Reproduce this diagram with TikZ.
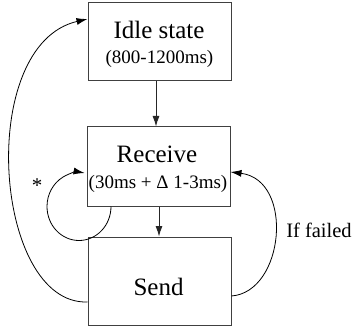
\documentclass[tikz,border=0pt]{standalone}
\usepackage{fontspec}
\setmainfont{Liberation Serif}
\usetikzlibrary{arrows.meta}

\tikzset{
  statebox/.style={draw=black!75, line width=1pt, inner sep=0pt, minimum width=143pt},
  bigtext/.style={anchor=base, font=\fontsize{25}{30}\selectfont},
  smalltext/.style={anchor=base, font=\fontsize{19}{23}\selectfont},
  flow/.style={draw=black!85, line width=0.9pt, -{Latex[length=10.5pt,width=7pt]}},
  loop/.style={draw=black, line width=0.8pt, -{Latex[length=11pt,width=7pt]}},
}

\begin{document}
\begin{tikzpicture}[x=1pt, y=-1pt]
  \useasboundingbox (0,0) rectangle (354,329);

  % state boxes
  \node[statebox, minimum height=78.5pt] (idle) at (159.5,41.75) {};
  \node[statebox, minimum height=79pt]   (recv) at (158.5,166.5) {};
  \node[statebox, minimum height=88pt]   (send) at (159.5,281) {};

  % box texts
  \node[bigtext]   (idlet)  at (159,39)    {Idle state};
  \node[smalltext] (idlet2) at (159.5,64)  {(800-1200ms)};
  \node[bigtext]   (recvt)  at (157,163)   {Receive};
  \node[smalltext] (recvt2) at (158,188.5) {(30ms + Δ 1-3ms)};
  \node[bigtext]   (sendt)  at (158.5,295) {Send};

  % edge labels
  \node[anchor=base, font=\fontsize{20.5}{24}\selectfont] (failed) at (319,237) {If failed};
  \node[anchor=base, font=\fontsize{21}{24}\selectfont] (star) at (37,193) {*};

  % straight transitions
  \draw[flow] ([xshift=-3.5pt]idle.south) -- ([xshift=-2.5pt]recv.north);
  \draw[flow] ([xshift=0.5pt]recv.south) -- ([xshift=-0.5pt]send.north);

  % Send back to Idle
  \draw[loop] ([yshift=-21pt]send.west) .. controls +(-94,3) and +(-112,26) .. ([yshift=22.75pt]idle.west);

  % Send back to Receive on failure
  \draw[loop] ([yshift=-15pt]send.east) .. controls +(53,-4) and +(64,8) .. ([yshift=-5.5pt]recv.east);

  % Receive self loop
  \draw[loop] ([xshift=-47.5pt]recv.south) arc[start angle=0, end angle=-280, x radius=32pt, y radius=34pt];
\end{tikzpicture}
\end{document}
